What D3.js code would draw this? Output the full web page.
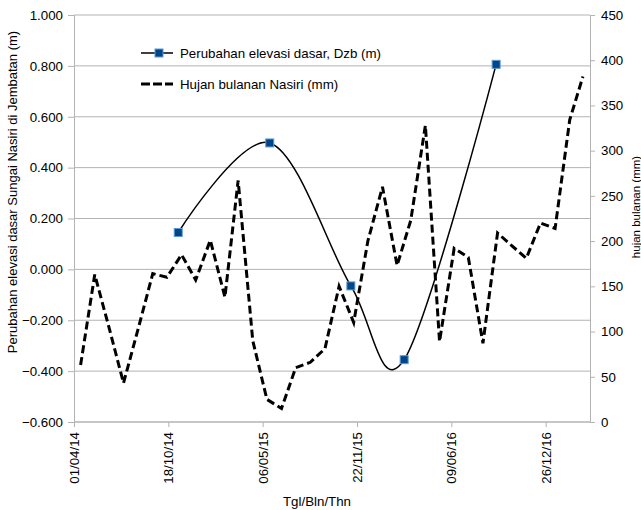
<!DOCTYPE html>
<html>
<head>
<meta charset="utf-8">
<script src="https://cdn.jsdelivr.net/npm/d3@7"></script>
<style>
  body { margin: 0; background: #fff; }
  svg { font-family: "Liberation Sans", Arial, sans-serif; }
  .axis text { font-size: 13.3px; fill: #000; }
  .axis path, .axis line { stroke: #b3b3b3; }
</style>
</head>
<body>
<svg width="641" height="510"></svg>
<script>
// elevation surveys (left axis, m)
var elevDates = ["2014-11-08", "2015-05-21", "2015-11-09", "2016-03-01", "2016-09-12"];
var elevValues = [0.145, 0.497, -0.065, -0.355, 0.806];

// monthly rainfall (right axis, mm)
var rainMonths = ["2014-04-15", "2014-05-15", "2014-06-15", "2014-07-15", "2014-08-15", "2014-09-15",
                  "2014-10-15", "2014-11-15", "2014-12-15", "2015-01-15", "2015-02-15", "2015-03-15",
                  "2015-04-15", "2015-05-15", "2015-06-15", "2015-07-15", "2015-08-15", "2015-09-15",
                  "2015-10-15", "2015-11-15", "2015-12-15", "2016-01-15", "2016-02-15", "2016-03-15",
                  "2016-04-15", "2016-05-15", "2016-06-15", "2016-07-15", "2016-08-15", "2016-09-15",
                  "2016-10-15", "2016-11-15", "2016-12-15", "2017-01-15", "2017-02-15", "2017-03-15"];
var rainValues = [63, 163, 103, 43, 103, 164, 160, 185, 157, 201, 138, 267,
                  90, 25, 15, 60, 66, 81, 150, 110, 200, 260, 173, 223,
                  328, 89, 192, 182, 87, 209, 195, 181, 220, 214, 334, 382];

var xTickDates = ["2014-04-01", "2014-10-18", "2015-05-06", "2015-11-22", "2016-06-09", "2016-12-26"];
var leftTicks = [-0.6, -0.4, -0.2, 0, 0.2, 0.4, 0.6, 0.8, 1.0];
var rightTicks = [0, 50, 100, 150, 200, 250, 300, 350, 400, 450];

var parse = d3.timeParse("%Y-%m-%d");
var svg = d3.select("svg");

var plotL = 74, plotR = 590, plotT = 15, plotB = 422;

var xScale = d3.scaleTime()
  .domain([parse("2014-04-01"), parse("2017-03-30")])
  .range([plotL, plotR]);
var yLeft = d3.scaleLinear().domain([-0.6, 1.0]).range([plotB, plotT]);
var yRight = d3.scaleLinear().domain([0, 450]).range([plotB, plotT]);

// gridlines
svg.append("g")
  .selectAll("line")
  .data(leftTicks)
  .enter()
  .append("line")
  .attr("x1", plotL).attr("x2", plotR)
  .attr("y1", function(d) { return yLeft(d); })
  .attr("y2", function(d) { return yLeft(d); })
  .attr("stroke", "#b3b3b3")
  .attr("stroke-width", 1);

// axes
var fmtLeft = d3.format(".3f");
svg.append("g")
  .attr("class", "axis")
  .attr("transform", "translate(" + plotL + ",0)")
  .call(d3.axisLeft(yLeft).tickValues(leftTicks).tickFormat(fmtLeft).tickSizeOuter(0).tickSize(6).tickPadding(5));

svg.append("g")
  .attr("class", "axis")
  .attr("transform", "translate(" + plotR + ",0)")
  .call(d3.axisRight(yRight).tickValues(rightTicks).tickSizeOuter(0).tickSize(5).tickPadding(6));

var xAxisG = svg.append("g")
  .attr("class", "axis")
  .attr("transform", "translate(0," + plotB + ")")
  .call(d3.axisBottom(xScale)
    .tickValues(xTickDates.map(parse))
    .tickFormat(d3.timeFormat("%d/%m/%y"))
    .tickSizeOuter(0).tickSize(5));
xAxisG.select(".domain").attr("d", "M" + plotL + ",0H" + plotR);
xAxisG.selectAll("text")
  .attr("transform", "rotate(-90)")
  .attr("text-anchor", "end")
  .attr("x", -10)
  .attr("y", 0)
  .attr("dy", "0.35em");

// rainfall line
var rain = rainMonths.map(function(d, i) { return {date: parse(d), v: rainValues[i]}; });
svg.append("path")
  .datum(rain)
  .attr("fill", "none")
  .attr("stroke", "#000")
  .attr("stroke-width", 3)
  .attr("stroke-dasharray", "8,4")
  .attr("d", d3.line()
    .x(function(d) { return xScale(d.date); })
    .y(function(d) { return yRight(d.v); }));

// elevation line
var elev = elevDates.map(function(d, i) { return {date: parse(d), v: elevValues[i]}; });
svg.append("path")
  .datum(elev)
  .attr("fill", "none")
  .attr("stroke", "#000")
  .attr("stroke-width", 1.5)
  .attr("d", d3.line()
    .curve(d3.curveCardinal.tension(0))
    .x(function(d) { return xScale(d.date); })
    .y(function(d) { return yLeft(d.v); }));

svg.selectAll("rect.marker")
  .data(elev)
  .enter()
  .append("rect")
  .attr("class", "marker")
  .attr("x", function(d) { return xScale(d.date) - 4; })
  .attr("y", function(d) { return yLeft(d.v) - 4; })
  .attr("width", 8).attr("height", 8)
  .attr("fill", "#004586")
  .attr("stroke", "#5b9bd5")
  .attr("stroke-width", 1);

// legend
var lg = svg.append("g");
lg.append("line").attr("x1", 141).attr("x2", 173).attr("y1", 53).attr("y2", 53)
  .attr("stroke", "#000").attr("stroke-width", 1.5);
lg.append("rect").attr("x", 155).attr("y", 49).attr("width", 8).attr("height", 8)
  .attr("fill", "#004586").attr("stroke", "#5b9bd5");
lg.append("text").attr("x", 180).attr("y", 57.5).attr("font-size", "13.3px")
  .text("Perubahan elevasi dasar, Dzb (m)");
lg.append("line").attr("x1", 141).attr("x2", 173).attr("y1", 84).attr("y2", 84)
  .attr("stroke", "#000").attr("stroke-width", 3).attr("stroke-dasharray", "9,3");
lg.append("text").attr("x", 180).attr("y", 88.5).attr("font-size", "13.3px")
  .text("Hujan bulanan Nasiri (mm)");

// axis titles
svg.append("text")
  .attr("transform", "translate(17,192) rotate(-90)")
  .attr("text-anchor", "middle")
  .attr("font-size", "13px")
  .text("Perubahan elevasi dasar Sungai Nasiri di Jembatan (m)");

svg.append("text")
  .attr("transform", "translate(640,207) rotate(-90)")
  .attr("text-anchor", "middle")
  .attr("font-size", "11.5px")
  .text("hujan bulanan (mm)");

svg.append("text")
  .attr("x", 317).attr("y", 506)
  .attr("text-anchor", "middle")
  .attr("font-size", "13.3px")
  .text("Tgl/Bln/Thn");
</script>
</body>
</html>
